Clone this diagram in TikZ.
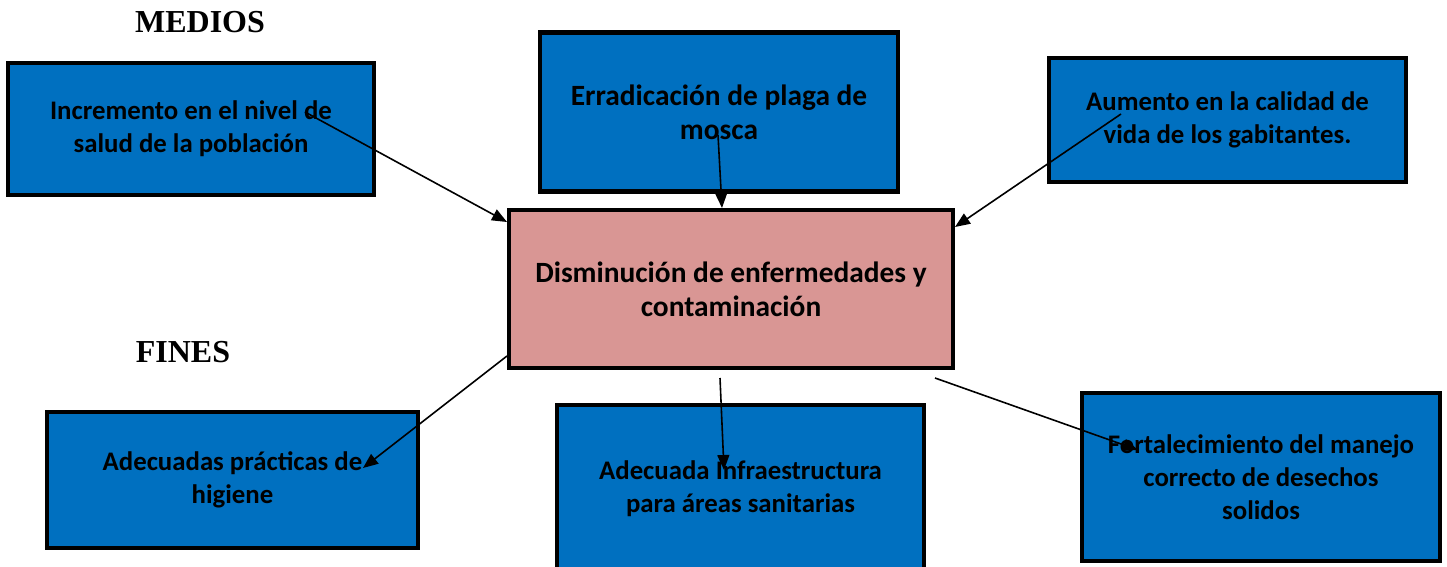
\documentclass[tikz,border=0pt]{standalone}
\usepackage{fontspec}
\setmainfont{Carlito}
\newfontfamily\labfont{Liberation Serif}
\usetikzlibrary{arrows.meta}
\definecolor{boxblue}{HTML}{0070C0}
\definecolor{boxpink}{HTML}{D99694}
\tikzset{
  bluebox/.style={draw=black, line width=4.5pt, fill=boxblue, rectangle, align=center,
    font=\bfseries\fontsize{26.8}{33}\selectfont, inner sep=0pt},
  bigtext/.style={font=\bfseries\fontsize{29.4}{34}\selectfont},
  pinkbox/.style={bluebox, fill=boxpink, bigtext},
  conn/.style={line width=1.6pt, -{Triangle[length=15pt,width=12pt]}},
  title/.style={font=\labfont\bfseries\fontsize{32}{36}\selectfont}
}
\begin{document}
\begin{tikzpicture}[x=1pt,y=-1pt]
\useasboundingbox (0,0) rectangle (1447,567);
\node[title] (medios) at (200,22) {MEDIOS};
\node[title] (fines) at (183,352) {FINES};
\node[bluebox, minimum width=366pt, minimum height=132pt] (b1) at (191,129) {Incremento en el nivel de\\salud de la población};
\node[bluebox, bigtext, minimum width=358pt, minimum height=159pt] (b2) at (719,112) {Erradicación de plaga de\\mosca};
\node[bluebox, minimum width=357pt, minimum height=124pt] (b3) at (1227.5,120) {Aumento en la calidad de\\vida de los gabitantes.};
\node[pinkbox, minimum width=444pt, minimum height=158pt] (c) at (731,289) {Disminución de enfermedades y\\contaminación};
\node[bluebox, minimum width=371pt, minimum height=136pt] (b4) at (232.5,480) {Adecuadas prácticas de\\higiene};
\node[bluebox, minimum width=367pt, minimum height=168pt] (b5) at (740.5,489) {Adecuada Infraestructura\\para áreas sanitarias};
\node[bluebox, minimum width=358pt, minimum height=168pt] (b6) at (1261,477) {Fortalecimiento del manejo\\correcto de desechos\\solidos};
\coordinate (s1) at (305,112);
\coordinate (e1) at (507,222);
\coordinate (s2) at (718,135);
\coordinate (e2) at (722,208);
\coordinate (s3) at (1121,114);
\coordinate (e3) at (955,227);
\coordinate (s4) at (507,356);
\coordinate (e4) at (363,468);
\coordinate (s5) at (720,378);
\coordinate (e5) at (724,470);
\coordinate (s6) at (935,378);
\coordinate (e6) at (1138,450);
\draw[conn] (s1) -- (e1);
\draw[conn] (s2) -- (e2);
\draw[conn] (s3) -- (e3);
\draw[conn] (s4) -- (e4);
\draw[conn] (s5) -- (e5);
\draw[conn] (s6) -- (e6);
\end{tikzpicture}
\end{document}
